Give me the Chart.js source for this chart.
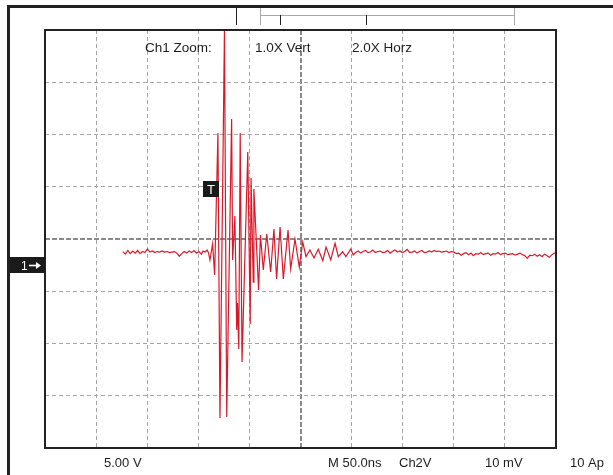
<!DOCTYPE html>
<html>
<head>
<meta charset="utf-8">
<script src="https://cdn.jsdelivr.net/npm/chart.js@4.4.1/dist/chart.umd.min.js"></script>
<style>
  html, body { margin: 0; padding: 0; background: #fff; }
  #wrap { width: 613px; height: 475px; }
</style>
</head>
<body>
<div id="wrap"><canvas id="scope" width="613" height="475"></canvas></div>
<script>
// Eixo horizontal: tempo (ns) na janela de zoom, 25 ns por divisão
const timeNs = [
    38.1, 39.3, 40.5, 41.7, 42.9, 44.1, 45.3, 46.5, 47.7, 48.9,
    50.1, 51.3, 52.5, 53.7, 54.9, 56.1, 57.3, 58.5, 59.7, 60.9,
    62.1, 63.3, 64.5, 65.7, 66.9, 68.1, 69.3, 70.5, 71.7, 72.9,
    74.1, 75.3, 76.5, 77.3,
    78.3, 79.3, 80.0, 80.7, 82.0, 83.0, 84.6, 85.6, 87.8, 88.9,
    91.3, 91.8, 92.9, 93.8, 94.2, 94.8, 95.5, 96.4, 99.2, 100.4,
    100.8, 101.9, 102.2, 104.5, 105.4, 106.8, 108.5, 110.4, 112.0, 113.3,
    115.0, 116.6, 118.9, 120.2, 122.3, 124.4, 126.1, 127.7, 129.6, 131.6,
    133.7, 135.9, 137.5, 139.8, 141.9, 143.5, 145.6, 147.2, 149.6, 150.8,
    152.0, 153.2, 154.4, 155.6, 156.8, 158.0, 159.2, 160.4, 161.6, 162.8,
    164.0, 165.2, 166.4, 167.6, 168.8, 170.0, 171.2, 172.4, 173.6, 174.8,
    176.0, 177.2, 178.4, 179.6, 180.8, 182.0, 183.2, 184.4, 185.6, 186.8,
    188.0, 189.2, 190.4, 191.6, 192.8, 194.0, 195.2, 196.4, 197.6, 198.8,
    200.0, 201.2, 202.4, 203.6, 204.8, 206.0, 207.2, 208.4, 209.6, 210.8,
    212.0, 213.2, 214.4, 215.6, 216.8, 218.0, 219.2, 220.4, 221.6, 222.8,
    224.0, 225.2, 226.4, 227.6, 228.8, 230.0, 231.2, 232.4, 233.6, 234.8,
    236.0, 237.2, 238.4, 239.6, 240.8, 242.0, 243.2, 244.4, 245.6, 246.8,
    248.0, 249.2, 250.0
];

// Canal 1 (V), 5 V por divisão
const ch1V = [
    -1.20, -1.45, -1.10, -1.40, -1.15, -1.35, -1.10, -1.40, -1.20, -1.30,
    -0.95, -1.25, -1.15, -1.30, -1.20, -1.25, -1.15, -1.25, -1.20, -1.30,
    -1.25, -1.20, -1.35, -1.65, -1.40, -1.20, -1.35, -1.15, -1.30, -1.10,
    -1.35, -1.20, -1.45, -1.15,
    -1.24, -1.05, -1.34, -2.01, -0.48, -3.45, 10.14, -17.13, 20.0, -17.03,
    11.48, -2.01, 2.20, -8.71, -6.12, -10.53, 10.14, -11.77, 8.33, -8.13,
    5.84, -4.12, 4.79, -4.88, 0.38, -2.97, 0.48, -3.16, 0.96, -3.83,
    1.15, -3.83, 0.86, -2.87, 0.00, -2.68, -0.29, -1.69, -1.05, -1.82,
    -0.99, -2.08, -0.77, -2.01, -0.41, -1.69, -1.22, -1.69, -0.96, -1.53,
    -1.30, -1.15, -1.35, -1.20, -1.10, -1.30, -1.25, -1.05, -1.30, -1.20,
    -1.15, -1.30, -1.25, -1.10, -1.35, -1.20, -1.05, -1.25, -1.15, -1.30,
    -1.20, -1.00, -1.30, -1.25, -1.15, -1.35, -1.20, -1.10, -1.30, -1.25,
    -1.15, -1.25, -1.10, -1.20, -1.15, -1.25, -1.20, -1.15, -1.30, -1.20,
    -1.25, -1.40, -1.35, -1.55, -1.40, -1.30, -1.50, -1.35, -1.60, -1.40,
    -1.45, -1.30, -1.50, -1.40, -1.35, -1.55, -1.40, -1.45, -1.30, -1.50,
    -1.40, -1.35, -1.50, -1.45, -1.40, -1.55, -1.45, -1.35, -1.50, -1.60,
    -1.85, -1.55, -1.60, -1.45, -1.65, -1.50, -1.70, -1.45, -1.60, -1.75,
    -1.50, -1.35, -1.35
];

// Textos do ecrã
const headerLabels = ['Ch1 Zoom:', '1.0X Vert', '2.0X Horz'];
const footerLabels = ['5.00 V', 'M 50.0ns', 'Ch2V', '10 mV', '10 Ap'];

const timeRange = [0, 250];
const voltRange = [-20, 20];

const FONT = '"Liberation Sans", Arial, Helvetica, sans-serif';
const TEXT_COLOR = '#1e1e1e';

// Moldura, marcadores e anotações do osciloscópio
const scopeDecor = {
    id: 'scopeDecor',
    afterDraw(chart) {
        const ctx = chart.ctx;
        const area = chart.chartArea;
        ctx.save();

        // moldura exterior
        ctx.fillStyle = '#222';
        ctx.fillRect(7, 5, 606, 3);
        ctx.fillRect(7, 5, 3, 470);

        // moldura da grelha
        ctx.strokeStyle = '#222';
        ctx.lineWidth = 2;
        ctx.strokeRect(area.left, area.top, area.right - area.left, area.bottom - area.top);

        // marcadores superiores
        ctx.lineWidth = 1;
        ctx.strokeStyle = '#a8a8a8';
        ctx.beginPath();
        ctx.moveTo(260.5, 8); ctx.lineTo(260.5, 25);
        ctx.moveTo(514.5, 8); ctx.lineTo(514.5, 25);
        ctx.moveTo(260, 15.5); ctx.lineTo(515, 15.5);
        ctx.stroke();
        ctx.strokeStyle = '#222';
        ctx.beginPath();
        ctx.moveTo(236.5, 8); ctx.lineTo(236.5, 25);
        ctx.moveTo(280.5, 15); ctx.lineTo(280.5, 25);
        ctx.moveTo(366.5, 15); ctx.lineTo(366.5, 25);
        ctx.stroke();

        // textos
        ctx.fillStyle = TEXT_COLOR;
        ctx.textBaseline = 'alphabetic';
        ctx.textAlign = 'left';
        ctx.font = '13.5px ' + FONT;
        const headerX = [145, 255, 352];
        headerLabels.forEach((t, i) => ctx.fillText(t, headerX[i], 51.5));
        ctx.font = '13px ' + FONT;
        const footerX = [104, 328, 399, 485, 570];
        footerLabels.forEach((t, i) => ctx.fillText(t, footerX[i], 467));

        // indicador do canal 1
        ctx.fillStyle = '#1a1a1a';
        ctx.fillRect(10, 257, 35, 16);
        ctx.fillStyle = '#fff';
        ctx.font = '12px ' + FONT;
        ctx.fillText('1', 21, 270);
        ctx.strokeStyle = '#fff';
        ctx.lineWidth = 1.6;
        ctx.beginPath();
        ctx.moveTo(29, 265.5); ctx.lineTo(37, 265.5);
        ctx.stroke();
        ctx.beginPath();
        ctx.moveTo(41, 265.5); ctx.lineTo(36, 262); ctx.lineTo(36, 269); ctx.closePath();
        ctx.fill();

        // indicador de trigger
        ctx.fillStyle = '#1a1a1a';
        ctx.fillRect(203, 181, 16, 16);
        ctx.fillStyle = '#fff';
        ctx.font = '13px ' + FONT;
        ctx.textAlign = 'center';
        ctx.fillText('T', 211, 194);

        ctx.restore();
    }
};

function gridWidth(ctx) {
    return ctx.tick && ctx.tick.value === 0 ? 2 : 1;
}
function gridColor(ctx) {
    return ctx.tick && ctx.tick.value === 0 ? '#8a8a8a' : '#a6a6a6';
}
function gridDash(ctx) {
    return ctx.tick && ctx.tick.value === 0 ? [5, 2] : [4, 3];
}

function initScopeChart() {
    const canvas = document.getElementById('scope');
    if (!canvas) return;

    const points = timeNs.map((t, i) => ({ x: t, y: ch1V[i] }));

    new Chart(canvas, {
        type: 'line',
        data: {
            datasets: [{
                label: 'Ch1',
                data: points,
                borderColor: '#d71a2b',
                borderWidth: 1.2,
                pointRadius: 0,
                tension: 0,
                fill: false
            }]
        },
        options: {
            responsive: false,
            animation: false,
            layout: { padding: { left: 45, top: 30, right: 57, bottom: 27 } },
            plugins: {
                legend: { display: false },
                title: { display: false },
                tooltip: { enabled: false }
            },
            scales: {
                x: {
                    type: 'linear',
                    min: timeRange[0],
                    max: timeRange[1],
                    ticks: { display: false, stepSize: 25 },
                    grid: {
                        drawTicks: false,
                        color: (c) => c.tick && c.tick.value === 125 ? '#8a8a8a' : '#a6a6a6',
                        lineWidth: (c) => c.tick && c.tick.value === 125 ? 2 : 1
                    },
                    border: {
                        display: false,
                        dash: (c) => c.tick && c.tick.value === 125 ? [5, 2] : [4, 3]
                    }
                },
                y: {
                    type: 'linear',
                    min: voltRange[0],
                    max: voltRange[1],
                    ticks: { display: false, stepSize: 5 },
                    grid: {
                        drawTicks: false,
                        color: gridColor,
                        lineWidth: gridWidth
                    },
                    border: {
                        display: false,
                        dash: gridDash
                    }
                }
            }
        },
        plugins: [scopeDecor]
    });
}

document.addEventListener('DOMContentLoaded', initScopeChart);
</script>
</body>
</html>
